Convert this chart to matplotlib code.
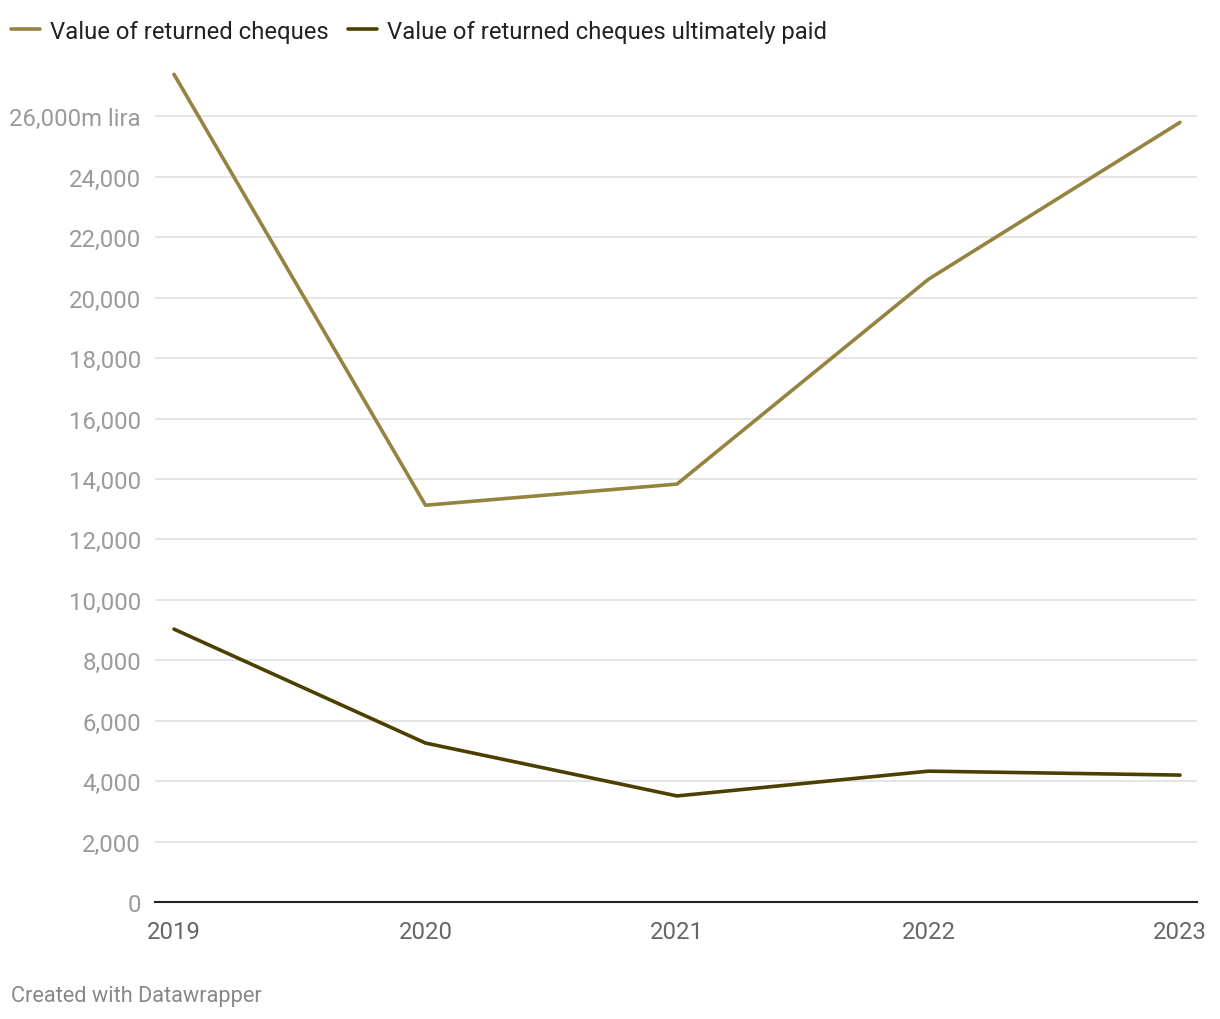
import matplotlib.pyplot as plt
from matplotlib.ticker import FuncFormatter

plt.rcParams['font.family'] = ['Roboto', 'DejaVu Sans']

years = [2019, 2020, 2021, 2022, 2023]
returned = [27390, 13130, 13830, 20610, 25800]
returned_paid = [9030, 5260, 3510, 4330, 4200]

light = '#958440'
dark = '#4c4000'

fig = plt.figure(figsize=(12.2, 10.2), dpi=100)
ax = fig.add_axes([155 / 1220, 1 - 903 / 1020, (1197 - 155) / 1220, (903 - 72) / 1020])

ax.plot(years, returned, color=light, lw=2.6, label='Value of returned cheques', solid_capstyle='round')
ax.plot(years, returned_paid, color=dark, lw=2.6, label='Value of returned cheques ultimately paid',
        solid_capstyle='round')

ax.set_xlim(2019 - 19 / 251.5, 2023 + 17 / 251.5)
ax.set_ylim(0, 27500)
ax.set_yticks(range(0, 26001, 2000))
ax.set_xticks(years)


def fmt(v, pos):
    if v == 26000:
        return '26,000m lira'
    return f'{int(v):,}'


ax.yaxis.set_major_formatter(FuncFormatter(fmt))
ax.grid(axis='y', color='#e0e0e0', lw=1.2)
ax.set_axisbelow(True)
for s in ['top', 'right', 'left']:
    ax.spines[s].set_visible(False)
ax.spines['bottom'].set_color('#222222')
ax.spines['bottom'].set_linewidth(1.5)
ax.tick_params(axis='y', length=0, pad=10, labelsize=17.2, labelcolor='#9a9a9a')
ax.tick_params(axis='x', length=0, pad=13, labelsize=17.2, labelcolor='#666666')

fig.legend(loc='center left', bbox_to_anchor=(11 / 1220, 1 - 32 / 1020), ncol=2, frameon=False,
           fontsize=17.2, handlelength=1.22, handletextpad=0.42, columnspacing=0.8,
           borderpad=0, borderaxespad=0, labelcolor='#222222')

fig.text(11 / 1220, 1 - 997 / 1020, 'Created with Datawrapper', fontsize=15.7,
         color='#888888', va='center', ha='left')

fig.savefig('out.png', dpi=100)
